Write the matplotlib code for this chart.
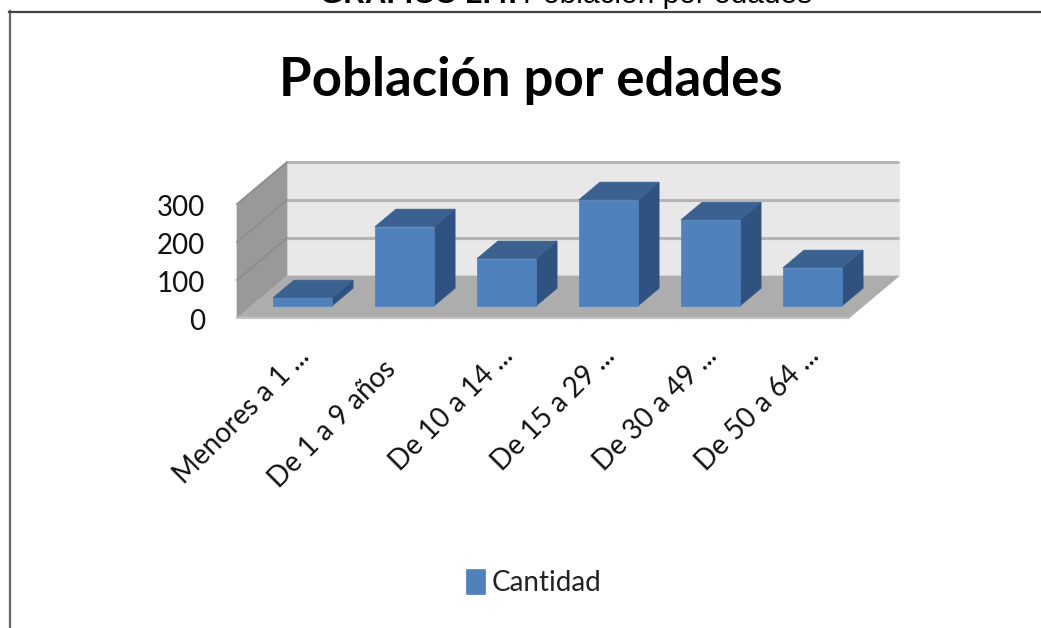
#!/usr/bin/env python
# Poblacion por edades, fake 3D column chart in the old Excel style

import matplotlib
matplotlib.use("Agg")
import matplotlib.pyplot as plt
from matplotlib.lines import Line2D
from matplotlib.patches import Polygon
from matplotlib.transforms import ScaledTranslation

categories = ["Menores a 1 ...", "De 1 a 9 años", "De 10 a 14 ...",
              "De 15 a 29 ...", "De 30 a 49 ...", "De 50 a 64 ..."]
cantidad = [21, 208, 124, 279, 226, 100]
y_ticks = [0, 100, 200, 300]

W, H = 1041, 628
# depth of the whole box, in data units per unit depth
DX = 50 / 102.
DY = 42 / 38. * 100

plt.rcParams['font.family'] = ['Lato', 'DejaVu Sans']

def project(x, v, d):
    return (x + d*DX, v + d*DY)

def face(ax, pts, color, z, **kw):
    p = Polygon([project(*pt) for pt in pts], closed=True, facecolor=color,
                edgecolor=color, linewidth=0.5, zorder=z, clip_on=False, **kw)
    ax.add_patch(p)
    return p

def draw_bar(ax, i, val, label=None):
    x0 = i + 0.5 - 0.29
    x1 = i + 0.5 + 0.29
    d0, d1 = 0.29, 0.71
    z = 5
    face(ax, [(x1, 0, d0), (x1, 0, d1), (x1, val, d1), (x1, val, d0)], '#2F5280', z)
    face(ax, [(x0, val, d0), (x1, val, d0), (x1, val, d1), (x0, val, d1)], '#3A6190', z)
    face(ax, [(x0, 0, d0), (x1, 0, d0), (x1, val, d0), (x0, val, d0)], '#4F81BD', z, label=label)

fig = plt.figure(figsize=(W/100., H/100.), dpi=100, facecolor='white')
ax = fig.add_axes([237./W, 1-318./H, 612./W, 114./H])
ax.set_xlim(0, 6)
ax.set_ylim(0, 300)
ax.patch.set_visible(False)
for s in ax.spines.values():
    s.set_visible(False)

# walls and floor
face(ax, [(0, 0, 1), (6, 0, 1), (6, 300, 1), (0, 300, 1)], '#E8E8E8', 1)
face(ax, [(0, 0, 0), (0, 0, 1), (0, 300, 1), (0, 300, 0)], '#999999', 1)
face(ax, [(0, 0, 0), (6, 0, 0), (6, 0, 1), (0, 0, 1)], '#ADADAD', 2)

# gridlines
for v in y_ticks[1:]:
    xs, ys = zip(project(0, v, 1), project(6, v, 1))
    ax.plot(xs, ys, color='#B4B4B4', lw=2.2, zorder=3, clip_on=False, solid_capstyle='butt')
    xs, ys = zip(project(0, v, 0), project(0, v, 1))
    ax.plot(xs, ys, color='#8C8C8C', lw=1.2, zorder=3, clip_on=False)
xs, ys = zip(project(0, 0, 0), project(6, 0, 0))
ax.plot(xs, ys, color='#C4C4C4', lw=1.5, zorder=3, clip_on=False)

for i in range(len(categories)):
    draw_bar(ax, i, cantidad[i], label="Cantidad" if i == 0 else None)

# axis text
ax.set_yticks(y_ticks)
ax.set_xticks([])
ax.tick_params(axis='y', length=0, pad=23, labelsize=20, labelcolor='#111111')
for lbl in ax.get_yticklabels():
    lbl.set_transform(lbl.get_transform() + ScaledTranslation(0, -2/100., fig.dpi_scale_trans))

for i, lab in enumerate(categories):
    # the one label without ellipsis sits further down the diagonal
    off = (-15, -13) if i == 1 else (0, 0)
    ax.annotate(lab, xy=(i+0.5, 0), xycoords='data',
                xytext=(17+off[0], -34+off[1]), textcoords='offset pixels',
                rotation=45, rotation_mode='anchor', ha='right', va='center',
                fontsize=20, color='#111111')

leg = ax.legend(loc='center', bbox_to_anchor=(534./W, 1-582.5/H),
                bbox_transform=fig.transFigure, frameon=False, fontsize=20,
                handlelength=0.68, handleheight=1.0, handletextpad=0.25,
                labelcolor='#222222')

# title and the cut off caption above the frame
fig.text(531./W, 1-96./H, "Población por edades", ha='center', va='baseline',
         fontsize=38, fontweight='bold', color='black')
fig.text(518./W, 1-3./H, "GRÁFICO 2.4:", ha='right', va='baseline',
         fontsize=21.5, fontweight='bold', color='black', family='Liberation Sans')
fig.text(523./W, 1-3./H, "Población por edades", ha='left', va='baseline',
         fontsize=21.5, color='black', family='Liberation Sans')

# frame of the pasted chart
fig.add_artist(Line2D([9.5/W, 9.5/W], [0, 1-11./H], color='#666666', lw=1.6,
                      transform=fig.transFigure))
fig.add_artist(Line2D([9./W, 1], [1-11.5/H, 1-11.5/H], color='#444444', lw=1.6,
                      transform=fig.transFigure))

fig.savefig("out.png", dpi=100)
